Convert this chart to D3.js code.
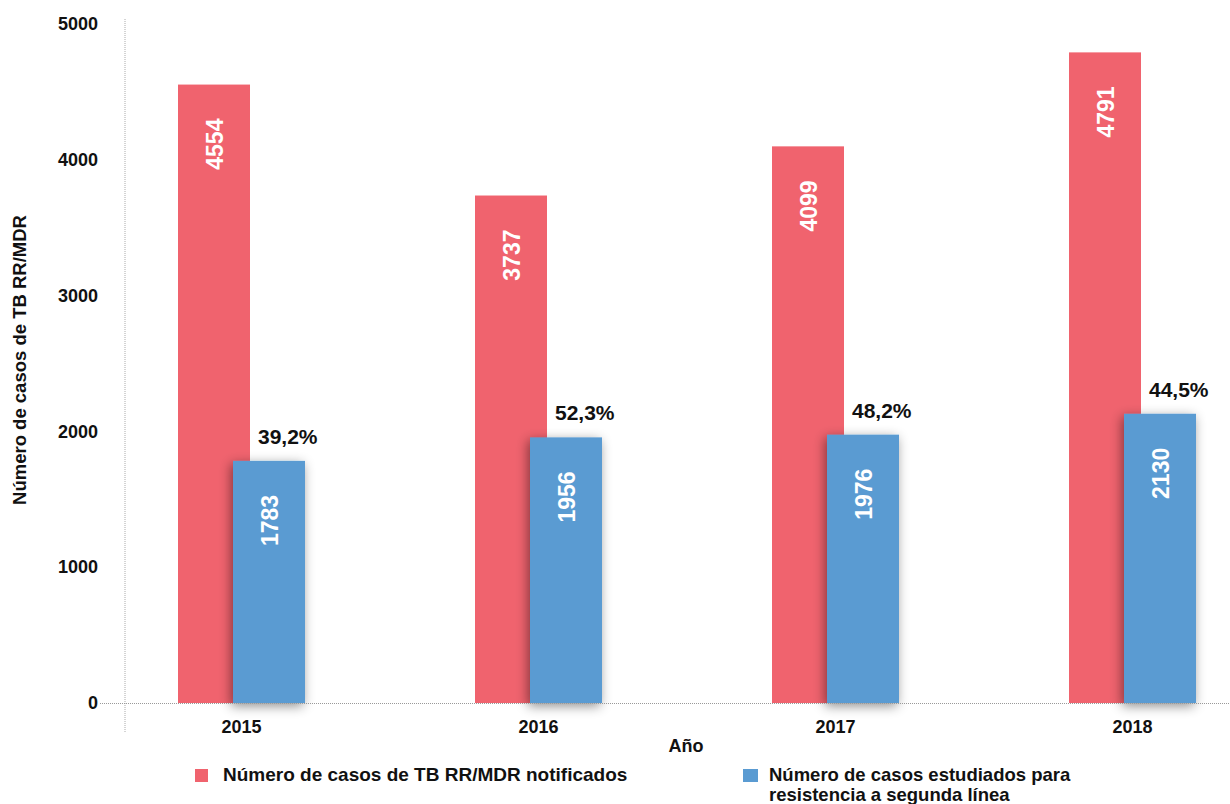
<!DOCTYPE html>
<html>
<head>
<meta charset="utf-8">
<script src="https://cdn.jsdelivr.net/npm/d3@7"></script>
<style>
  html, body { margin: 0; padding: 0; background: #fff; }
  svg { display: block; font-family: "Liberation Sans", Arial, Helvetica, sans-serif; font-weight: bold; }
</style>
</head>
<body>
<svg id="chart" width="1230" height="804"></svg>
<script>
// Data
const years = ["2015", "2016", "2017", "2018"];
const notificados = [4554, 3737, 4099, 4791];
const estudiados = [1783, 1956, 1976, 2130];
const porcentajes = ["39,2%", "52,3%", "48,2%", "44,5%"];
const yTicks = [0, 1000, 2000, 3000, 4000, 5000];
const serieNames = ["Número de casos de TB RR/MDR notificados",
                    ["Número de casos estudiados para", "resistencia a segunda línea"]];

const RED = "#f0636e";
const BLUE = "#5a9bd2";

const svg = d3.select("#chart");

// Scales
const x = d3.scaleBand().domain(years).range([93, 1281]).paddingInner(0).paddingOuter(0);
const y = d3.scaleLinear().domain([0, 5000]).range([703, 24]);

const barW = 72;
const redOff = -63.5;
const blueOff = -8.5;

// Shadow filter for the front bars
const defs = svg.append("defs");
const f = defs.append("filter").attr("id", "shadow")
  .attr("x", "-50%").attr("y", "-20%").attr("width", "200%").attr("height", "140%");
f.append("feDropShadow").attr("dx", -2).attr("dy", 3)
  .attr("stdDeviation", 6).attr("flood-color", "#000").attr("flood-opacity", 0.45);

// Axis lines (dotted)
svg.append("line")
  .attr("x1", 125).attr("x2", 125).attr("y1", 19).attr("y2", 732)
  .attr("stroke", "#aaa").attr("stroke-width", 1).attr("stroke-dasharray", "1,1");

// Y tick labels
const yAxis = d3.axisLeft(y).tickValues(yTicks).tickSize(0).tickPadding(0).tickFormat(d3.format("d"));
const gy = svg.append("g").attr("transform", "translate(98,0)").call(yAxis);
gy.select(".domain").remove();
gy.selectAll("text").attr("font-size", 18).attr("font-weight", "bold").attr("fill", "#111")
  .attr("font-family", "'Liberation Sans', Arial, sans-serif");

const cx = d => x(d) + x.bandwidth() / 2;

// Red bars
svg.append("g").selectAll("rect").data(years).join("rect")
  .attr("x", d => cx(d) + redOff).attr("width", barW)
  .attr("y", (d, i) => y(notificados[i])).attr("height", (d, i) => y(0) - y(notificados[i]))
  .attr("fill", RED);

// Blue bars
svg.append("g").selectAll("rect").data(years).join("rect")
  .attr("x", d => cx(d) + blueOff).attr("width", barW)
  .attr("y", (d, i) => y(estudiados[i])).attr("height", (d, i) => y(0) - y(estudiados[i]))
  .attr("fill", BLUE).attr("filter", "url(#shadow)");

// Baseline (dotted)
svg.append("line")
  .attr("x1", 100).attr("x2", 1230).attr("y1", y(0) + 0.5).attr("y2", y(0) + 0.5)
  .attr("stroke", "#999").attr("stroke-width", 1).attr("stroke-dasharray", "1,1");

// Value labels inside bars (rotated)
function barLabels(values, off) {
  svg.append("g").selectAll("text").data(years).join("text")
    .attr("transform", (d, i) => `translate(${cx(d) + off + barW / 2 + 8.5},${y(values[i]) + 34}) rotate(-90)`)
    .attr("text-anchor", "end")
    .attr("font-size", 23).attr("fill", "#fff")
    .text((d, i) => values[i]);
}
barLabels(notificados, redOff);
barLabels(estudiados, blueOff);

// Percentage labels above blue bars
svg.append("g").selectAll("text").data(years).join("text")
  .attr("x", d => cx(d) + blueOff + 25).attr("y", (d, i) => y(estudiados[i]) - 17)
  .attr("font-size", 21).attr("fill", "#111")
  .text((d, i) => porcentajes[i]);

// X tick labels
const xAxis = d3.axisBottom(x).tickSize(0).tickPadding(0);
const gx = svg.append("g").attr("transform", "translate(0,720)").call(xAxis);
gx.select(".domain").remove();
gx.selectAll("text").attr("font-size", 18).attr("font-weight", "bold").attr("fill", "#111")
  .attr("font-family", "'Liberation Sans', Arial, sans-serif").attr("dy", "0.71em");

// Axis titles
svg.append("text").attr("x", 686).attr("y", 752).attr("text-anchor", "middle")
  .attr("font-size", 18).attr("fill", "#111").text("Año");
svg.append("text").attr("transform", "translate(26,360) rotate(-90)").attr("text-anchor", "middle")
  .attr("font-size", 18.5).attr("fill", "#111").text("Número de casos de TB RR/MDR");

// Legend
const lg = svg.append("g");
lg.append("rect").attr("x", 195).attr("y", 769).attr("width", 13).attr("height", 13).attr("fill", RED);
lg.append("text").attr("x", 223).attr("y", 781).attr("font-size", 19).attr("fill", "#111").text(serieNames[0]);
lg.append("rect").attr("x", 743).attr("y", 769).attr("width", 15).attr("height", 13).attr("fill", BLUE);
lg.selectAll("text.l2").data(serieNames[1]).join("text").attr("class", "l2")
  .attr("x", 769).attr("y", (d, i) => 781 + i * 19.5)
  .attr("font-size", 18.5).attr("fill", "#111").text(d => d);
</script>
</body>
</html>
